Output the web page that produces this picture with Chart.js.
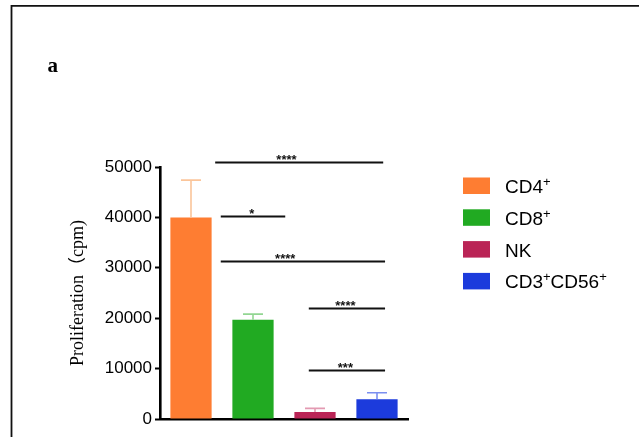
<!DOCTYPE html>
<html>
<head>
<meta charset="utf-8">
<script src="https://cdn.jsdelivr.net/npm/chart.js@4.4.0/dist/chart.umd.min.js"></script>
<style>
  html, body { margin: 0; padding: 0; background: #fff; }
  canvas { display: block; }
</style>
</head>
<body>
<canvas id="c" width="639" height="437"></canvas>
<script>
// Cell populations and their proliferation (cpm), mean + upper SEM
const categories = ['CD4+', 'CD8+', 'NK', 'CD3+CD56+'];
const meanCpm = [40000, 19700, 1400, 3900];
const errorCpm = [7400, 1100, 700, 1300];
const yTicks = [0, 10000, 20000, 30000, 40000, 50000];

// Significance brackets: span in category units, height in cpm, stars
const sigFrom = [0.39, 0.48, 0.48, 1.9, 1.9];
const sigTo = [3.1, 1.52, 3.13, 3.13, 3.13];
const sigLevel = [51000, 40200, 31400, 22000, 9800];
const sigLabelAt = [1.54, 0.98, 1.52, 2.49, 2.49];
const sigLabel = ['****', '*', '****', '****', '***'];

const barColors = ['#fe7d32', '#21aa22', '#ba2456', '#1c3bdc'];
const errorColors = ['#fbc59a', '#92d692', '#e39ab2', '#7b8ff0'];

const SANS = "'Liberation Sans', Arial, Helvetica, sans-serif";
const SERIF = "'Liberation Serif', 'Times New Roman', 'Noto Sans CJK SC', serif";

// draws text where each '+' is set as a superscript
function drawSupText(ctx, text, x, y, size) {
  const parts = text.split(/(\+)/).filter(s => s.length);
  let cx = x;
  for (const p of parts) {
    if (p === '+') {
      ctx.font = `${Math.round(size * 0.68)}px ${SANS}`;
      ctx.fillText('+', cx, y - size * 0.38);
      cx += ctx.measureText('+').width;
    } else {
      ctx.font = `${size}px ${SANS}`;
      ctx.fillText(p, cx, y);
      cx += ctx.measureText(p).width;
    }
  }
}

const decorations = {
  id: 'decorations',
  beforeDraw(chart) {
    const ctx = chart.ctx;
    ctx.save();
    ctx.fillStyle = '#fff';
    ctx.fillRect(0, 0, chart.width, chart.height);
    // panel frame
    ctx.strokeStyle = '#111';
    ctx.lineWidth = 1.8;
    ctx.beginPath();
    ctx.moveTo(11.5, chart.height + 2);
    ctx.lineTo(11.5, 5.8);
    ctx.lineTo(chart.width + 2, 5.8);
    ctx.stroke();
    // panel letter
    ctx.fillStyle = '#000';
    ctx.font = `bold 21px ${SERIF}`;
    ctx.textBaseline = 'alphabetic';
    ctx.textAlign = 'left';
    ctx.fillText('a', 47.5, 72);
    ctx.restore();
  },
  afterDatasetsDraw(chart) {
    const ctx = chart.ctx;
    const xs = chart.scales.x;
    const ys = chart.scales.y;
    const step = xs.getPixelForValue(1) - xs.getPixelForValue(0);
    const xAt = v => xs.getPixelForValue(0) + v * step;
    ctx.save();
    // upper error bars
    meanCpm.forEach((m, i) => {
      const x = xs.getPixelForValue(i);
      const yTop = ys.getPixelForValue(m + errorCpm[i]);
      const yBar = ys.getPixelForValue(m);
      ctx.strokeStyle = errorColors[i];
      ctx.lineWidth = 1.6;
      ctx.beginPath();
      ctx.moveTo(x, yBar);
      ctx.lineTo(x, yTop);
      ctx.moveTo(x - 10, yTop);
      ctx.lineTo(x + 10, yTop);
      ctx.stroke();
    });
    // significance brackets
    ctx.strokeStyle = '#111';
    ctx.fillStyle = '#111';
    ctx.lineWidth = 1.8;
    ctx.textAlign = 'center';
    ctx.textBaseline = 'alphabetic';
    ctx.font = `bold 13px ${SANS}`;
    sigLevel.forEach((lvl, i) => {
      const y = Math.round(ys.getPixelForValue(lvl)) + 0.5;
      ctx.beginPath();
      ctx.moveTo(xAt(sigFrom[i]), y);
      ctx.lineTo(xAt(sigTo[i]), y);
      ctx.stroke();
      ctx.fillText(sigLabel[i], xAt(sigLabelAt[i]), y + 1.5);
    });
    ctx.restore();
  },
  afterDraw(chart) {
    // legend with superscript markers
    const ctx = chart.ctx;
    ctx.save();
    ctx.textAlign = 'left';
    ctx.textBaseline = 'alphabetic';
    categories.forEach((c, i) => {
      const top = 177.5 + i * 31.8;
      ctx.fillStyle = barColors[i];
      ctx.fillRect(463, top, 27, 16.5);
      ctx.fillStyle = '#000';
      drawSupText(ctx, c, 505, top + 15.5, 19);
    });
    ctx.restore();
  }
};

new Chart(document.getElementById('c'), {
  type: 'bar',
  data: {
    labels: categories,
    datasets: [{
      data: meanCpm,
      backgroundColor: barColors,
      borderWidth: 0,
      categoryPercentage: 1,
      barPercentage: 0.665
    }]
  },
  options: {
    responsive: false,
    animation: false,
    devicePixelRatio: 1,
    layout: { padding: { left: 63, top: 167, right: 231, bottom: 18 } },
    plugins: { legend: { display: false }, tooltip: { enabled: false } },
    scales: {
      x: {
        ticks: { display: false },
        grid: { display: false },
        border: { display: true, color: '#000', width: 2.6 },
        afterFit(scale) { scale.height = 0; }
      },
      y: {
        min: 0,
        max: 50000,
        afterBuildTicks(scale) { scale.ticks = yTicks.map(v => ({ value: v })); },
        ticks: {
          color: '#000',
          padding: 3,
          font: { family: SANS, size: 17 },
          callback: v => String(v)
        },
        grid: {
          display: true,
          drawOnChartArea: false,
          drawTicks: true,
          tickLength: 5,
          tickColor: '#000',
          tickWidth: 2
        },
        border: { display: true, color: '#000', width: 2.6 },
        title: {
          display: true,
          text: 'Proliferation（cpm)',
          color: '#000',
          font: { family: SERIF, size: 18 },
          padding: { top: 4, bottom: 4 }
        },
        afterFit(scale) { scale.width = 97; }
      }
    }
  },
  plugins: [decorations]
});
</script>
</body>
</html>
